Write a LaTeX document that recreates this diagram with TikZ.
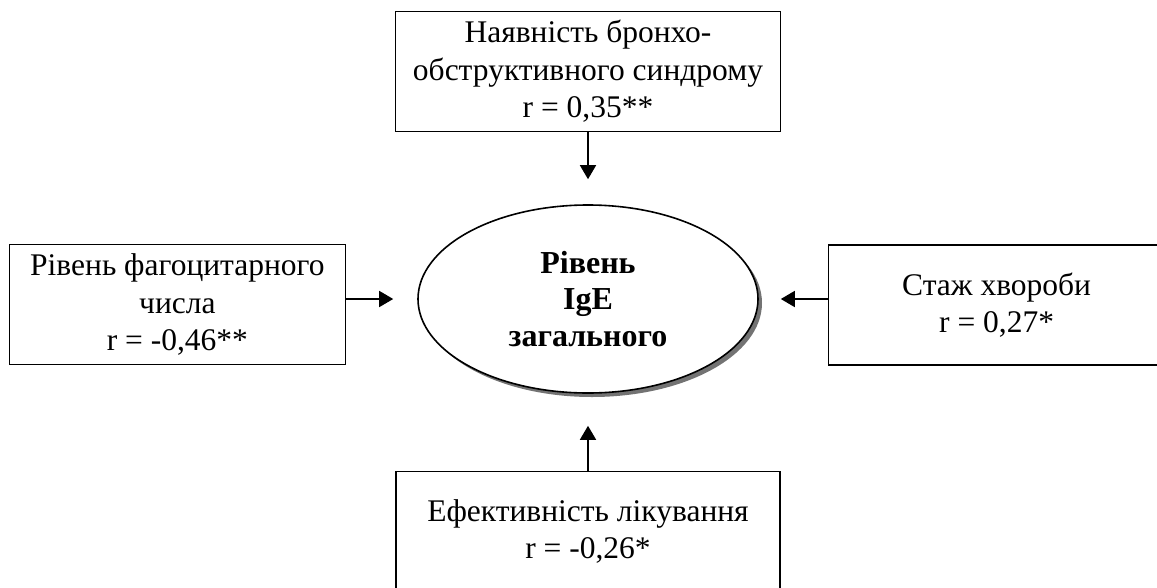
\documentclass[tikz,border=0pt]{standalone}
\usepackage{fontspec}
\setmainfont{Liberation Serif}
\usetikzlibrary{positioning, shapes.geometric, arrows.meta, shadows}

\begin{document}
\begin{tikzpicture}[node distance=71pt,
        font=\fontsize{31.5pt}{37.5pt}\selectfont,
        >={Triangle[length=14pt,width=16pt]},
        factor/.style={draw, line width=1.6pt, align=center, inner sep=0pt, minimum height=120pt}]
        \useasboundingbox (0,0) rectangle (1157pt,-587pt);
        \clip (0,0) rectangle (1157pt,-587pt);

        \node[draw, ellipse, line width=1.6pt, fill=white, minimum width=340pt, minimum height=188pt, inner sep=0pt, align=center,
              drop shadow={shadow xshift=4pt, shadow yshift=-4pt, fill=black!55, opacity=1},
              font=\fontsize{32pt}{36.5pt}\selectfont\bfseries]                    (ige)      at (588pt,-299pt) {Рівень\\IgE\\загального};
        \node[factor, minimum width=385pt, above=72pt of ige]                      (broncho)  {Наявність бронхо-\\обструктивного синдрому\\r = 0,35**};
        \node[factor, minimum width=336pt, left=71pt of ige, yshift=-5.5pt]        (phago)    {Рівень фагоцитарного\\числа\\r = -0,46**};
        \node[factor, minimum width=336pt, right=69pt of ige, yshift=-6pt]         (duration) {Стаж хвороби\\r = 0,27*};
        \node[factor, minimum width=384pt, below=77pt of ige]                      (therapy)  {Ефективність лікування\\r = -0,26*};

        \draw[->, line width=1.6pt, shorten >=25pt] (broncho) -- (ige);
        \draw[->, line width=1.6pt, shorten >=24pt] (phago.east |- ige) -- (ige);
        \draw[->, line width=1.6pt, shorten >=22pt] (duration.west |- ige) -- (ige);
        \draw[->, line width=1.6pt, shorten >=32pt] (therapy) -- (ige);
    \end{tikzpicture}
\end{document}
